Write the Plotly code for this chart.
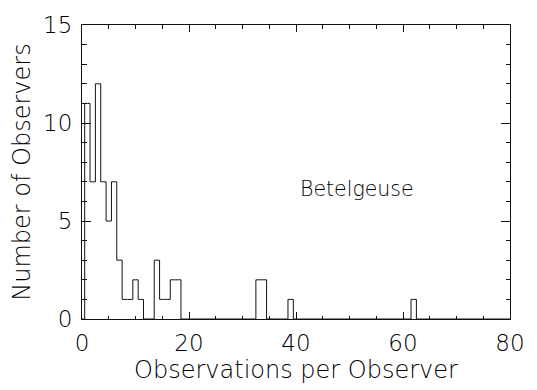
import numpy as np
import plotly.graph_objects as go

# Histogram of observations per observer (non-empty bins only)
obs_per_observer = [1, 2, 3, 4, 5, 6, 7, 8, 9, 10, 11, 14, 15, 16, 17, 18, 33, 34, 39, 62]
n_observers = [11, 7, 12, 7, 5, 7, 3, 1, 1, 2, 1, 3, 1, 1, 2, 2, 2, 2, 1, 1]

x_ticks = [0, 20, 40, 60, 80]
y_ticks = [0, 5, 10, 15]
star_name = "Betelgeuse"

# Fill every unit bin from 0 to 80 so the outline drops to zero between bars
bin_centers = np.arange(0, 81)
counts = np.zeros(len(bin_centers))
counts[np.array(obs_per_observer)] = n_observers

FONT = dict(family="DejaVu Sans", size=23, color="#000", weight=200)
TITLE_FONT = dict(FONT, size=24)
INK = "#111"

fig = go.Figure()
fig.add_trace(go.Scatter(
    x=bin_centers, y=counts, mode="lines",
    line=dict(shape="hvh", color=INK, width=1),
    showlegend=False, hoverinfo="skip",
))

fig.add_annotation(
    x=40.3, y=6.65, xref="x", yref="y", text=star_name, showarrow=False,
    xanchor="left", yanchor="middle", font=dict(FONT, size=20.5),
)

axis_common = dict(
    showline=True, linecolor=INK, linewidth=1, mirror="allticks",
    ticks="inside", tickcolor=INK, tickwidth=1,
    showgrid=False, zeroline=False, tickfont=FONT,
)

fig.update_xaxes(
    range=[0, 80], tickvals=x_ticks, ticklen=7,
    minor=dict(dtick=5, ticks="inside", ticklen=3.5, tickcolor=INK, tickwidth=1),
    title=dict(text="Observations per Observer", font=TITLE_FONT, standoff=3),
    ticklabelstandoff=3,
    **axis_common,
)
fig.update_yaxes(
    range=[0, 15], tickvals=y_ticks, ticklen=9,
    minor=dict(dtick=1, ticks="inside", ticklen=4.5, tickcolor=INK, tickwidth=1),
    title=dict(text="Number of Observers", font=TITLE_FONT, standoff=5),
    ticklabelstandoff=4,
    **axis_common,
)

fig.update_layout(
    width=537, height=390,
    margin=dict(l=82, r=19, t=12, b=71),
    paper_bgcolor="white", plot_bgcolor="white",
)

fig.write_html("out.html")
